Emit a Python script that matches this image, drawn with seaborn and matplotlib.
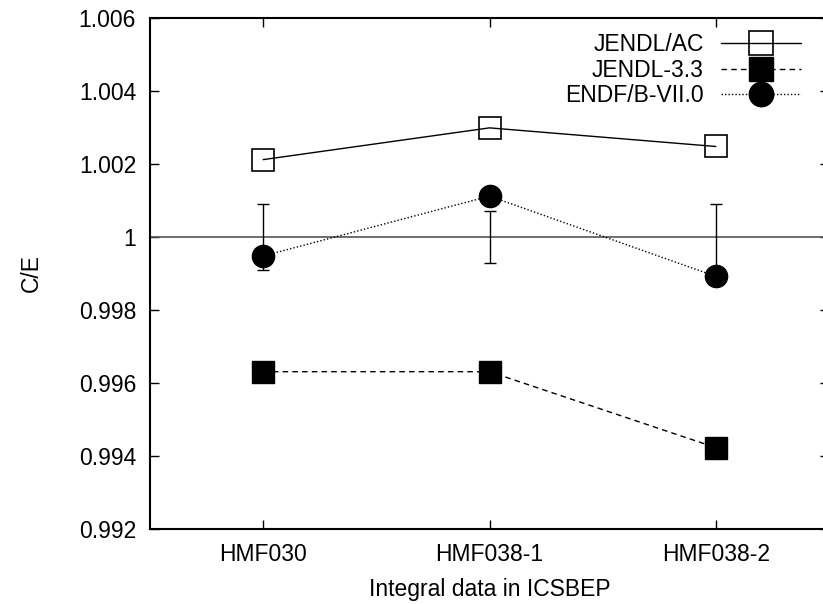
import matplotlib
matplotlib.use("Agg")
import matplotlib.pyplot as plt
import seaborn as sns
import pandas as pd
import numpy as np

categories = ["HMF030", "HMF038-1", "HMF038-2"]
jendl_ac = [1.00212, 1.00299, 1.00248]
jendl_33 = [0.99631, 0.99631, 0.99423]
endf_b7 = [0.99948, 1.00112, 0.99892]
exp_value = [1.0, 1.0, 1.0]
exp_err = [0.0009, 0.0007, 0.0009]
yticks = [0.992, 0.994, 0.996, 0.998, 1.0, 1.002, 1.004, 1.006]
ytick_labels = ["0.992", "0.994", "0.996", "0.998", "1", "1.002", "1.004", "1.006"]

sns.set_theme(style="ticks")
plt.rcParams["font.family"] = ["Liberation Sans", "DejaVu Sans"]
plt.rcParams["text.color"] = "black"
plt.rcParams["axes.labelcolor"] = "black"

fig = plt.figure(figsize=(8.23, 6.04), dpi=100)
ax = fig.add_axes([150 / 823, 1 - 529 / 604, 679 / 823, 511 / 604])

pos = np.arange(len(categories))
df = pd.DataFrame({
    "x": np.tile(pos, 3),
    "y": jendl_ac + jendl_33 + endf_b7,
    "series": ["JENDL/AC"] * 3 + ["JENDL-3.3"] * 3 + ["ENDF/B-VII.0"] * 3,
})

ax.axhline(1.0, color="#555555", lw=1.2, zorder=1)
ax.errorbar(pos, exp_value, yerr=exp_err, fmt="none", ecolor="black",
            elinewidth=1.0, capsize=4, capthick=1.0, zorder=2)

styles = {
    "JENDL/AC": dict(ls="-", marker="s", mfc="none", mec="black", mew=1.2),
    "JENDL-3.3": dict(ls=(0, (4, 3)), marker="s", mfc="black", mec="black", mew=1.0),
    "ENDF/B-VII.0": dict(ls=(0, (1, 1.5)), marker="o", mfc="black", mec="black", mew=1.0),
}
for name in ["JENDL/AC", "JENDL-3.3", "ENDF/B-VII.0"]:
    sub = df[df["series"] == name]
    st = styles[name]
    sns.lineplot(data=sub, x="x", y="y", ax=ax, color="black", lw=1.0,
                 linestyle=st["ls"], marker=st["marker"], markersize=16,
                 markerfacecolor=st["mfc"], markeredgecolor=st["mec"],
                 markeredgewidth=st["mew"], label=name, zorder=3)

fs = 16.5
ax.set_xlim(-0.5, 2.5)
ax.set_ylim(0.992, 1.006)
ax.set_xticks(pos)
ax.set_xticklabels(categories)
ax.set_yticks(yticks)
ax.set_yticklabels(ytick_labels)
ax.tick_params(direction="in", length=6.5, width=1.0, top=True, right=True,
               labelsize=fs, colors="black", pad=10)
ax.set_xlabel("Integral data in ICSBEP", fontsize=fs, labelpad=9)
ax.set_ylabel("C/E", fontsize=fs, labelpad=26)
for s in ax.spines.values():
    s.set_linewidth(1.5)
    s.set_color("black")

leg = ax.legend(loc="upper right", bbox_to_anchor=(801 / 823, 1 - 33 / 604),
                bbox_transform=fig.transFigure, frameon=False, markerfirst=False,
                fontsize=fs, handlelength=3.5, handletextpad=0.75,
                labelspacing=0.12, borderpad=0, borderaxespad=0,
                markerscale=1.1)

fig.savefig("out.png", dpi=100)
